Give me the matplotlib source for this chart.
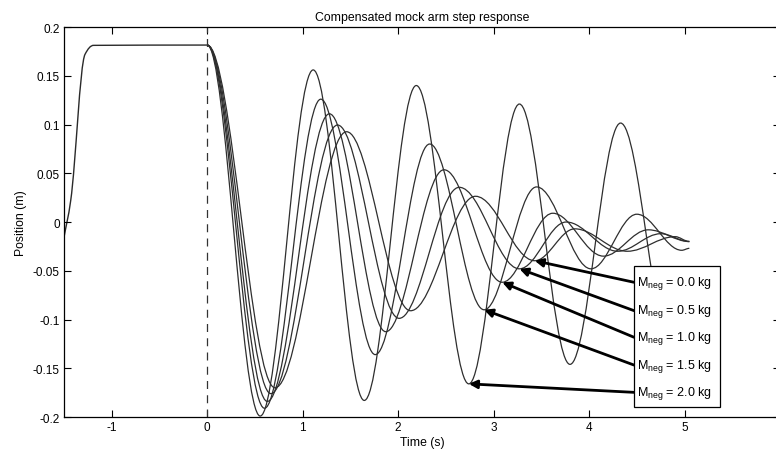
import matplotlib
matplotlib.use('Agg')
import matplotlib.pyplot as plt
from matplotlib.path import Path
from matplotlib.patches import PathPatch, Rectangle

plt.rcParams['font.family'] = ['Liberation Sans', 'DejaVu Sans']
plt.rcParams['mathtext.fontset'] = 'custom'
plt.rcParams['mathtext.rm'] = 'Liberation Sans'
plt.rcParams['mathtext.it'] = 'Liberation Sans:italic'

# response before the step at t = 0 (same for every mass)
pre_t = [-1.5, -1.43, -1.28, -1.19, 0.0]
pre_y = [-0.0155, 0.022, 0.172, 0.1812, 0.1815]

# turning points of each response after the step (time s, position m)
masses = ['0.0', '0.5', '1.0', '1.5', '2.0']
t_m00 = [0.0, 0.71, 1.46, 2.13, 2.81, 3.43, 3.85, 4.40, 4.90, 5.05]
y_m00 = [0.1815, -0.170, 0.0926, -0.091, 0.0264, -0.0397, -0.007, -0.030, -0.015, -0.020]
t_m05 = [0.0, 0.667, 1.365, 2.01, 2.64, 3.27, 3.76, 4.30, 4.75, 5.05]
y_m05 = [0.1815, -0.176, 0.0995, -0.0988, 0.0356, -0.048, 0.0, -0.030, -0.012, -0.020]
t_m10 = [0.0, 0.63, 1.28, 1.87, 2.48, 3.09, 3.62, 4.15, 4.62, 5.05]
y_m10 = [0.1815, -0.184, 0.111, -0.1125, 0.0536, -0.0618, 0.009, -0.035, -0.008, -0.020]
t_m15 = [0.0, 0.60, 1.19, 1.76, 2.33, 2.90, 3.45, 4.02, 4.50, 4.97, 5.05]
y_m15 = [0.1815, -0.191, 0.126, -0.136, 0.080, -0.090, 0.036, -0.048, 0.008, -0.029, -0.027]
t_m20 = [0.0, 0.555, 1.11, 1.645, 2.19, 2.74, 3.27, 3.80, 4.33, 4.87, 5.05]
y_m20 = [0.1815, -0.199, 0.156, -0.183, 0.140, -0.166, 0.121, -0.146, 0.1015, -0.130, -0.090]

curves_t = [t_m00, t_m05, t_m10, t_m15, t_m20]
curves_y = [y_m00, y_m05, y_m10, y_m15, y_m20]
arrow_idx = 5   # third trough, where each label points


def smooth_path(ts, ys, k=0.36):
    # cubic segments; flat tangent at turning points, shape-preserving elsewhere
    n = len(ts)
    d = [(ys[i + 1] - ys[i]) / (ts[i + 1] - ts[i]) for i in range(n - 1)]
    m = [0.0] * n
    m[0] = d[0] if n > 2 and d[0] * d[1] > 0 else 0.0
    for i in range(1, n - 1):
        if d[i - 1] * d[i] > 0:
            m[i] = 2.0 / (1.0 / d[i - 1] + 1.0 / d[i])
    verts = [(ts[0], ys[0])]
    codes = [Path.MOVETO]
    for i in range(n - 1):
        dt = ts[i + 1] - ts[i]
        verts += [(ts[i] + k * dt, ys[i] + k * dt * m[i]),
                  (ts[i + 1] - k * dt, ys[i + 1] - k * dt * m[i + 1]),
                  (ts[i + 1], ys[i + 1])]
        codes += [Path.CURVE4] * 3
    return Path(verts, codes)


fig = plt.figure(figsize=(7.76, 4.52), dpi=100)
ax = fig.add_axes([0.0825, 0.0752, 0.9227, 0.8628])

ax.add_patch(PathPatch(smooth_path(pre_t, pre_y), fill=False, ec='#2a2a2a', lw=1.0))
for ts, ys in zip(curves_t, curves_y):
    ax.add_patch(PathPatch(smooth_path(ts, ys), fill=False, ec='#2e2e2e', lw=0.9))

ax.axvline(0, color='#333333', lw=0.9, ls=(0, (6.4, 5)))

ax.set_xlim(-1.5, 6)
ax.set_ylim(-0.2, 0.2)
ax.set_xticks([-1, 0, 1, 2, 3, 4, 5])
ax.set_xticklabels(['-1', '0', '1', '2', '3', '4', '5'])
yt = [-0.2, -0.15, -0.1, -0.05, 0, 0.05, 0.1, 0.15, 0.2]
ax.set_yticks(yt)
ax.set_yticklabels(['-0.2', '-0.15', '-0.1', '-0.05', '0', '0.05', '0.1', '0.15', '0.2'])
ax.tick_params(direction='in', length=5, width=0.8, top=True, right=True,
               labelsize=8.5, pad=3)
for s in ax.spines.values():
    s.set_linewidth(0.9)

ax.set_title('Compensated mock arm step response', fontsize=8.8, pad=5)
ax.set_xlabel('Time (s)', fontsize=8.8, labelpad=2)
ax.set_ylabel('Position (m)', fontsize=8.8, labelpad=4)

# label box and arrows
box_x0, box_x1 = 4.47, 5.37
box_y0, box_y1 = -0.19, -0.045
ax.add_patch(Rectangle((box_x0, box_y0), box_x1 - box_x0, box_y1 - box_y0,
                       fc='white', ec='black', lw=0.9, zorder=5))
row_y = [-0.0618, -0.0909, -0.1182, -0.1467, -0.1747]
for mass, ry, ts, ys in zip(masses, row_y, curves_t, curves_y):
    ax.text(box_x0 + 0.03, ry, r'M$_{\rm neg}$ = ' + mass + ' kg', fontsize=9,
            va='center', ha='left', zorder=6)
    ax.annotate('', xy=(ts[arrow_idx], ys[arrow_idx]), xytext=(box_x0, ry),
                arrowprops=dict(arrowstyle='-|>', color='black', lw=2.0,
                                mutation_scale=12, shrinkA=0, shrinkB=0),
                zorder=4)

fig.savefig('out.png', dpi=100)
